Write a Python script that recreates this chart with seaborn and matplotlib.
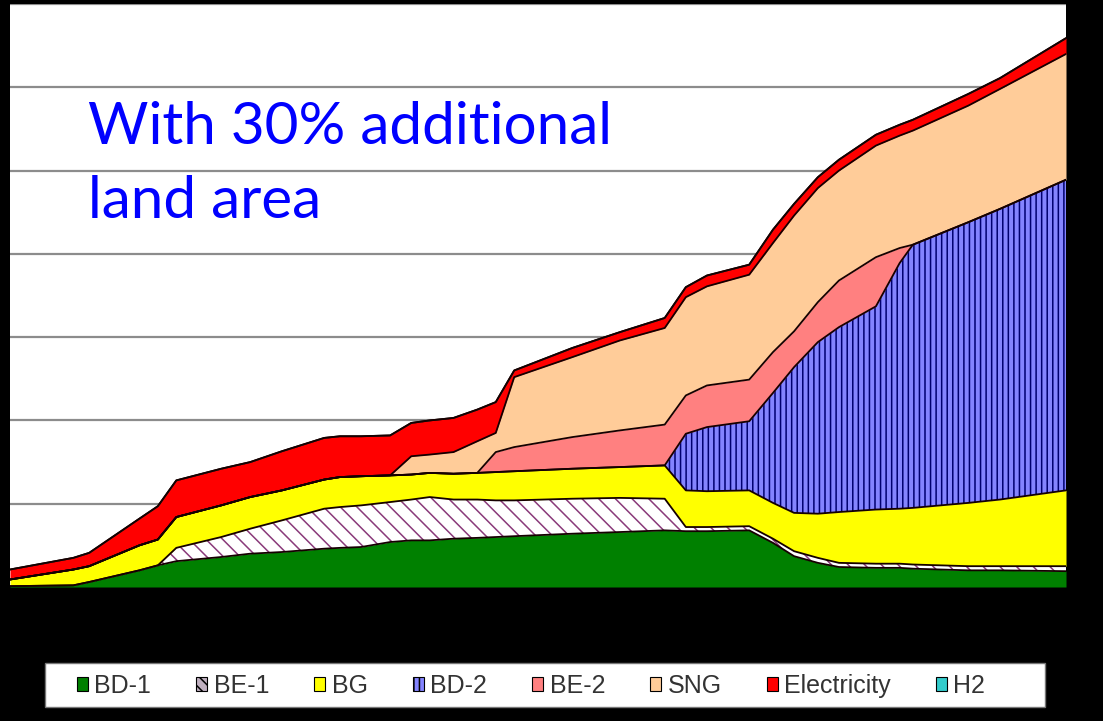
import matplotlib
matplotlib.use("Agg")
import matplotlib.pyplot as plt
import seaborn as sns
import pandas as pd
from matplotlib.patches import Patch, Rectangle

# Time axis of the scenario (years, irregular sampling at the turning points)
years = [2010.0, 2012.4, 2013.0, 2014.9, 2015.6, 2016.3, 2018.0, 2019.1, 2020.3,
         2021.9, 2022.5, 2023.3, 2024.4, 2025.2, 2025.9, 2026.8, 2027.7, 2028.4,
         2029.1, 2031.3, 2033.1, 2034.8, 2035.6, 2036.4, 2038.0, 2038.9, 2039.7,
         2040.6, 2041.4, 2042.8, 2043.7, 2044.2, 2046.3, 2047.5, 2050.0]

# Contribution of each biofuel route (stacked, bottom to top)
bd1 = [0.1, 0.2, 0.6, 2.0, 2.6, 3.1, 3.6, 4.0, 4.2, 4.6, 4.7, 4.8, 5.4, 5.6, 5.6,
       5.8, 5.9, 6.0, 6.1, 6.4, 6.6, 6.8, 6.7, 6.7, 6.8, 5.3, 3.7, 2.9, 2.4, 2.3,
       2.3, 2.2, 2.0, 2.0, 1.9]
be1 = [0.0, 0.0, 0.0, 0.0, 0.0, 1.6, 2.4, 3.0, 3.8, 4.8, 4.9, 5.0, 4.8, 4.9, 5.2,
       4.7, 4.6, 4.4, 4.3, 4.2, 4.1, 3.8, 0.5, 0.5, 0.5, 0.5, 0.6, 0.6, 0.5, 0.5,
       0.5, 0.5, 0.5, 0.5, 0.6]
bg = [0.8, 1.9, 1.9, 3.0, 3.1, 3.7, 3.8, 3.8, 3.6, 3.5, 3.6, 3.5, 3.2, 3.0, 2.9,
      3.1, 3.2, 3.4, 3.5, 3.6, 3.7, 4.0, 4.4, 4.3, 4.3, 4.3, 4.6, 5.3, 6.1, 6.5,
      6.6, 6.8, 7.6, 8.0, 9.1]
bd2 = [0.0, 0.0, 0.0, 0.0, 0.0, 0.0, 0.0, 0.0, 0.0, 0.0, 0.0, 0.0, 0.0, 0.0, 0.0,
       0.0, 0.0, 0.0, 0.0, 0.0, 0.0, 0.0, 6.8, 7.7, 8.3, 13.2, 17.5, 20.6, 22.2,
       24.4, 29.5, 31.6, 33.7, 34.9, 37.3]
be2 = [0.0, 0.0, 0.0, 0.0, 0.0, 0.0, 0.0, 0.0, 0.0, 0.0, 0.0, 0.0, 0.0, 0.0, 0.0,
       0.0, 0.0, 2.4, 2.9, 3.8, 4.4, 4.9, 4.6, 5.0, 5.0, 4.9, 4.3, 4.8, 5.6, 5.9,
       1.8, 0.0, 0.0, 0.0, 0.0]
sng = [0.0, 0.0, 0.0, 0.0, 0.0, 0.0, 0.0, 0.0, 0.0, 0.0, 0.0, 0.0, 0.0, 2.2, 2.2,
       2.6, 3.8, 2.3, 8.4, 9.6, 10.8, 11.6, 11.8, 11.9, 12.6, 13.1, 13.9, 13.7,
       13.2, 13.4, 13.5, 13.7, 14.0, 14.4, 15.1]
electricity = [1.2, 1.4, 1.6, 3.2, 4.0, 4.4, 4.4, 4.2, 4.7, 5.0, 4.9, 4.8, 4.8,
               4.0, 4.1, 4.1, 3.8, 3.7, 0.8, 1.1, 1.0, 1.2, 1.2, 1.3, 1.2, 1.6,
               1.4, 1.3, 1.3, 1.3, 1.3, 1.3, 1.4, 1.3, 1.9]
h2 = [0.0] * len(years)

labels = ["BD-1", "BE-1", "BG", "BD-2", "BE-2", "SNG", "Electricity", "H2"]
series = [bd1, be1, bg, bd2, be2, sng, electricity, h2]
fills = ["#008000", "#FFFFFF", "#FFFF00", "#8484FF", "#FF8080", "#FFCC99",
         "#FF0000", "#33CCCC"]
hatches = [None, "\\\\", None, "|||", None, None, None, None]
hatch_colors = [None, "#8A3A7A", None, "#000070", None, None, None, None]

sns.set_theme(style="white")
plt.rcParams["hatch.linewidth"] = 1.1

fig = plt.figure(figsize=(11.03, 7.21), dpi=100, facecolor="black")
ax = fig.add_axes([10 / 1103, (721 - 587) / 721, 1056 / 1103, 583 / 721])
ax.set_facecolor("white")

polys = ax.stackplot(years, *series, colors=fills, linewidth=0, zorder=2)
for poly, h, hc in zip(polys, hatches, hatch_colors):
    if h:
        poly.set_hatch(h)
        poly.set_edgecolor(hc)
        poly.set_linewidth(0)

# Black outline along the top of every layer
rows = []
running = [0.0] * len(years)
for name, vals in zip(labels, series):
    running = [r + v for r, v in zip(running, vals)]
    for yr, top in zip(years, running):
        rows.append({"year": yr, "level": top, "layer": name})
edges = pd.DataFrame(rows)
sns.lineplot(data=edges, x="year", y="level", hue="layer",
             palette=["#150000"] * len(labels), linewidth=1.3, legend=False,
             estimator=None, ax=ax, zorder=3)

ax.set_xlim(years[0], years[-1])
ax.set_ylim(0, 70)
ax.set_yticks(range(0, 71, 10))
ax.yaxis.grid(True, color="#8C8C8C", linewidth=1.6, zorder=1)
ax.set_axisbelow(True)
ax.set_xticks([])
ax.tick_params(left=False, labelleft=False)
ax.set_xlabel("")
ax.set_ylabel("")
for s in ax.spines.values():
    s.set_visible(False)

fig.text(88 / 1103, 1 - 101 / 721, "With 30% additional\nland area",
         color="#0000FF", fontsize=42, family="Lato", va="top", ha="left",
         linespacing=1.49)

# Legend strip under the chart
fig.patches.append(Rectangle((45 / 1103, (721 - 707) / 721), 1000 / 1103, 44 / 721,
                             transform=fig.transFigure, facecolor="white",
                             edgecolor="#777777", linewidth=1.0))
handles = [Patch(facecolor=c, edgecolor="black", hatch=h, linewidth=0.8)
           for c, h in zip(fills, hatches)]
handles[1] = Patch(facecolor="#C0B0C0", edgecolor="black", hatch="\\\\\\", linewidth=0.8)
fig.legend(handles, labels, loc="center", bbox_to_anchor=(531 / 1103, (721 - 686) / 721),
           ncol=8, frameon=False, handlelength=0.45, handleheight=0.45,
           handletextpad=0.25, columnspacing=1.8, borderaxespad=0,
           prop={"family": "Liberation Sans", "size": 18},
           labelcolor="#333333")

fig.savefig("out.png", dpi=100, facecolor="black")
